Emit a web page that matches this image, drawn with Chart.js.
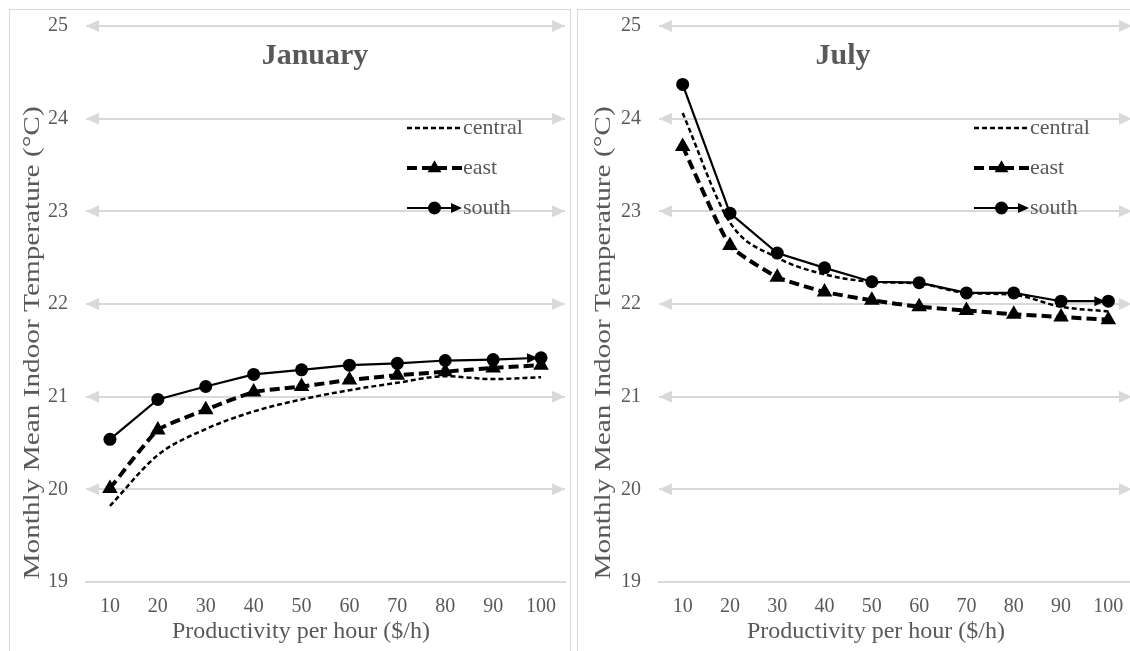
<!DOCTYPE html>
<html>
<head>
<meta charset="utf-8">
<script src="https://cdn.jsdelivr.net/npm/chart.js@4.4.1/dist/chart.umd.min.js"></script>
<style>
  html, body { margin: 0; padding: 0; background: #fff; width: 1130px; height: 651px; overflow: hidden; }
  .panel { position: absolute; top: 9px; height: 680px; border: 1px solid #d9d9d9; box-sizing: border-box; overflow: hidden; }
  #p1 { left: 9px; width: 562px; }
  #p2 { left: 577px; width: 580px; }
  .panel canvas { position: absolute; left: 0; top: 0; }
</style>
</head>
<body>
<div class="panel" id="p1"><canvas id="c1" width="564" height="641"></canvas></div>
<div class="panel" id="p2"><canvas id="c2" width="563" height="641"></canvas></div>
<script>
// Productivity levels on the x axis ($/h)
const productivity = [10, 20, 30, 40, 50, 60, 70, 80, 90, 100];

// Monthly mean indoor temperature (°C), January
const janCentral = [19.82, 20.37, 20.65, 20.84, 20.97, 21.07, 21.15, 21.22, 21.19, 21.21];
const janEast    = [20.01, 20.64, 20.86, 21.05, 21.11, 21.18, 21.23, 21.27, 21.31, 21.34];
const janSouth   = [20.54, 20.97, 21.11, 21.24, 21.29, 21.34, 21.36, 21.39, 21.40, 21.42];

// Monthly mean indoor temperature (°C), July
const julCentral = [24.06, 22.88, 22.50, 22.32, 22.24, 22.22, 22.12, 22.10, 21.97, 21.92];
const julEast    = [23.70, 22.63, 22.29, 22.13, 22.04, 21.97, 21.93, 21.89, 21.86, 21.83];
const julSouth   = [24.37, 22.98, 22.55, 22.39, 22.24, 22.23, 22.12, 22.12, 22.03, 22.03];

// Temperature axis range
const tempMin = 19, tempMax = 25, tempStep = 1;

const seriesNames = ['central', 'east', 'south'];
const yAxisTitle = 'Monthly Mean Indoor Temperature (°C)';
const xAxisTitle = 'Productivity per hour ($/h)';

const FONT = "'Liberation Serif', 'Times New Roman', serif";
const TEXT = '#595959';
const GRID = '#d9d9d9';

function arrowHead(ctx, tipX, tipY, dx, dy, len, half) {
  const n = Math.hypot(dx, dy) || 1;
  const ux = dx / n, uy = dy / n;
  const bx = tipX - ux * len, by = tipY - uy * len;
  ctx.beginPath();
  ctx.moveTo(tipX, tipY);
  ctx.lineTo(bx - uy * half, by + ux * half);
  ctx.lineTo(bx + uy * half, by - ux * half);
  ctx.closePath();
  ctx.fill();
}

// Arrowheads at both ends of every horizontal gridline above the baseline
const gridArrows = {
  id: 'gridArrows',
  beforeDatasetsDraw(chart) {
    const { ctx, chartArea: a, scales: { y } } = chart;
    ctx.save();
    ctx.fillStyle = GRID;
    y.ticks.forEach(t => {
      if (t.value <= y.min) return;
      const py = y.getPixelForValue(t.value);
      arrowHead(ctx, a.left, py, -1, 0, 13, 6);
      arrowHead(ctx, a.right, py, 1, 0, 13, 6);
    });
    ctx.restore();
  }
};

// Arrow at the end of the "south" line
const endArrow = {
  id: 'endArrow',
  afterDatasetsDraw(chart) {
    const pts = chart.getDatasetMeta(2).data;
    if (pts.length < 2) return;
    const p1 = pts[pts.length - 2], p2 = pts[pts.length - 1];
    const dx = p2.x - p1.x, dy = p2.y - p1.y;
    const n = Math.hypot(dx, dy);
    const ctx = chart.ctx;
    ctx.save();
    ctx.fillStyle = '#000';
    arrowHead(ctx, p2.x - dx / n * 3, p2.y - dy / n * 3, dx, dy, 11, 5);
    ctx.restore();
  }
};

// Heading, axis titles and in-plot legend
const panelDecor = {
  id: 'panelDecor',
  afterDraw(chart, args, opts) {
    const { ctx, chartArea: a } = chart;
    ctx.save();
    ctx.fillStyle = TEXT;
    ctx.font = 'bold 30px ' + FONT;
    ctx.textAlign = 'center';
    ctx.textBaseline = 'middle';
    ctx.fillText(opts.title, opts.titleX, 46);

    // horizontal axis title
    ctx.font = '24px ' + FONT;
    ctx.fillText(xAxisTitle, opts.xTitleX, a.bottom + 50);

    // vertical axis title, slightly stretched along its length
    ctx.save();
    ctx.translate(opts.yTitleX, a.top + (a.bottom - a.top) * 0.57);
    ctx.rotate(-Math.PI / 2);
    ctx.scale(1.22, 1);
    ctx.fillText(yAxisTitle, 0, 0);
    ctx.restore();

    const x0 = a.right - 158, len = 55;
    chart.data.datasets.forEach((ds, i) => {
      const yy = a.top + 102 + i * 40;
      ctx.strokeStyle = '#000';
      ctx.fillStyle = '#000';
      ctx.lineWidth = ds.borderWidth;
      ctx.setLineDash(ds.borderDash || []);
      ctx.beginPath();
      ctx.moveTo(x0, yy);
      ctx.lineTo(ds.endArrow ? x0 + len - 8 : x0 + len, yy);
      ctx.stroke();
      ctx.setLineDash([]);
      const cx = x0 + len / 2;
      if (ds.pointStyle === 'circle' && ds.pointRadius > 0) {
        ctx.beginPath();
        ctx.arc(cx, yy, ds.pointRadius, 0, Math.PI * 2);
        ctx.fill();
      } else if (ds.pointStyle === 'triangle' && ds.pointRadius > 0) {
        const r = ds.pointRadius * 0.85;
        ctx.beginPath();
        ctx.moveTo(cx, yy - r);
        ctx.lineTo(cx + r * 0.9, yy + r * 0.55);
        ctx.lineTo(cx - r * 0.9, yy + r * 0.55);
        ctx.closePath();
        ctx.fill();
      }
      if (ds.endArrow) arrowHead(ctx, x0 + len, yy, 1, 0, 11, 5);
      ctx.fillStyle = TEXT;
      ctx.font = '22px ' + FONT;
      ctx.textAlign = 'left';
      ctx.textBaseline = 'middle';
      ctx.fillText(ds.label, x0 + len + 1, yy);
    });
    ctx.restore();
  }
};

function makeChart(id, title, titleX, central, east, south, axisWidth, yTitleX, xTitleX) {
  return new Chart(document.getElementById(id), {
    type: 'line',
    data: {
      labels: productivity,
      datasets: [
        {
          label: seriesNames[0], data: central,
          borderColor: '#000', backgroundColor: '#000',
          borderWidth: 2.5, borderDash: [5, 3], pointRadius: 0, pointStyle: 'circle',
          tension: 0.3, cubicInterpolationMode: 'monotone'
        },
        {
          label: seriesNames[1], data: east,
          borderColor: '#000', backgroundColor: '#000',
          borderWidth: 4, borderDash: [10, 5], pointRadius: 9, pointStyle: 'triangle',
          pointBorderWidth: 0, tension: 0.15
        },
        {
          label: seriesNames[2], data: south,
          borderColor: '#000', backgroundColor: '#000',
          borderWidth: 2.2, pointRadius: 6.5, pointStyle: 'circle',
          pointBorderWidth: 0, tension: 0, endArrow: true
        }
      ]
    },
    options: {
      responsive: false,
      animation: false,
      layout: { padding: { top: 16, right: 0, left: 0, bottom: 0 } },
      plugins: {
        legend: { display: false },
        tooltip: { enabled: false },
        panelDecor: { title: title, titleX: titleX, yTitleX: yTitleX, xTitleX: xTitleX }
      },
      scales: {
        x: {
          offset: true,
          grid: { display: false, drawTicks: false },
          border: { display: true, color: GRID, width: 2 },
          ticks: { color: TEXT, font: { family: FONT, size: 20 }, padding: 13, maxRotation: 0 },
          title: { display: false },
          afterFit(s) { s.height = 69; }
        },
        y: {
          min: tempMin, max: tempMax,
          grid: { color: GRID, lineWidth: 2, drawTicks: false },
          border: { display: false },
          ticks: { stepSize: tempStep, color: TEXT, font: { family: FONT, size: 20 }, padding: 18 },
          title: { display: false },
          afterFit(s) { s.width = axisWidth; s.paddingTop = 0; s.paddingBottom = 0; }
        }
      }
    },
    plugins: [gridArrows, endArrow, panelDecor]
  });
}

makeChart('c1', 'January', 305, janCentral, janEast, janSouth, 76, 23, 291);
makeChart('c2', 'July', 265, julCentral, julEast, julSouth, 81, 26, 298);
</script>
</body>
</html>
